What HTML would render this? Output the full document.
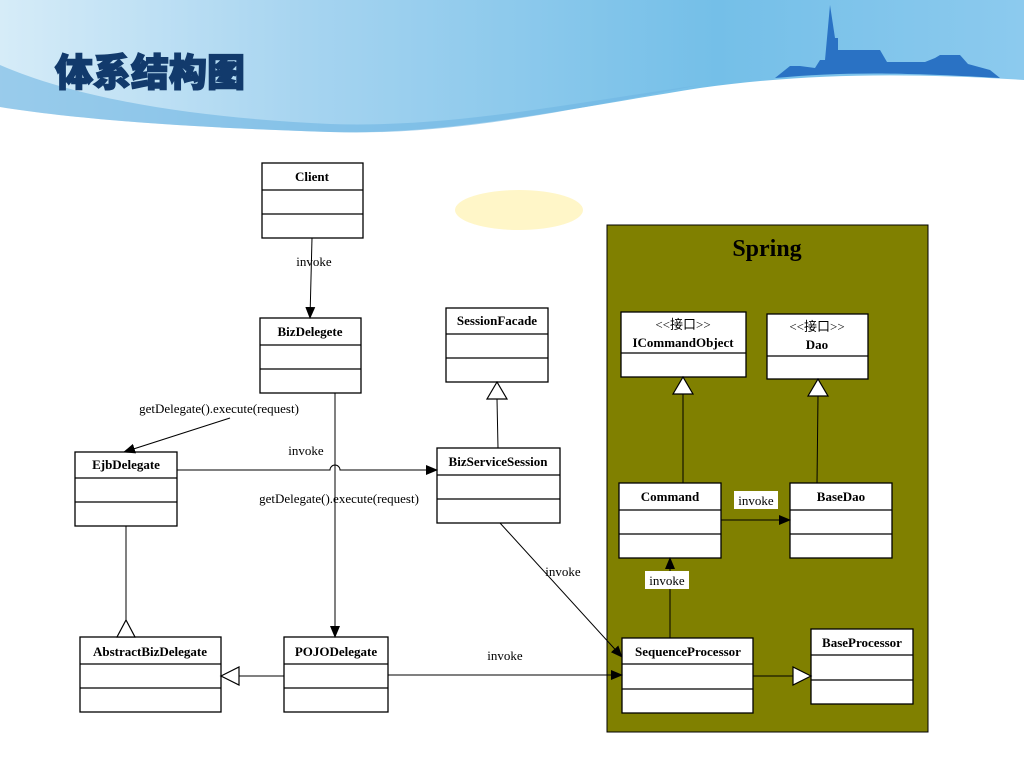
<!DOCTYPE html>
<html><head><meta charset="utf-8"><style>
html,body{margin:0;padding:0;width:1024px;height:768px;overflow:hidden;background:#fff}
text{font-family:"Liberation Serif",serif;font-size:13px;fill:#000}
.b{font-weight:bold}
</style></head><body>
<svg width="1024" height="768" viewBox="0 0 1024 768" xmlns="http://www.w3.org/2000/svg">
<defs>
<linearGradient id="hg" x1="0" y1="0" x2="1" y2="0">
<stop offset="0" stop-color="#d6ecf8"/><stop offset="0.3" stop-color="#a6d4f0"/><stop offset="0.7" stop-color="#74bfe8"/><stop offset="1" stop-color="#8ccaee"/>
</linearGradient>
<marker id="fa" markerWidth="12" markerHeight="10" refX="11" refY="5" orient="auto" markerUnits="userSpaceOnUse"><path d="M0,0 L12,5 L0,10 z" fill="#000"/></marker>
</defs>
<path d="M0,0 H1024 V80 C900,72 800,74 700,88 C560,110 450,135 330,132 C200,128 80,120 0,107 Z" fill="url(#hg)"/>
<path d="M0,65 C80,100 200,118 330,124 C450,128 560,105 700,85 C560,112 450,136 330,132 C200,128 80,120 0,107 Z" fill="#6fb6e2" opacity="0.6"/>
<g fill="#2a72c4">
<path d="M775,78 L790,66 L800,66 L815,68 L820,60 L825,60 L827,38 L830,5 L835,38 L838,38 L838,50 L880,50 L887,62 L925,62 L935,58 L940,55 L960,55 L968,64 L990,70 L1000,78 C900,72 840,72 775,78 Z"/>
</g>
<text x="55" y="86" style="font-family:'Noto Sans CJK SC','WenQuanYi Zen Hei',sans-serif;font-size:38px;font-weight:900;fill:#123a6c;stroke:#123a6c;stroke-width:1.5">体系结构图</text>
<ellipse cx="519" cy="210" rx="64" ry="20" fill="#fff6c8"/>
<rect x="607" y="225" width="321" height="507" fill="#808000" stroke="#000"/>
<text x="767" y="256" class="b" text-anchor="middle" style="font-size:24px">Spring</text>
<g fill="#fff" stroke="#000" stroke-width="1.3">
<rect x="262" y="163" width="101" height="75"/><line x1="262" y1="190" x2="363" y2="190"/><line x1="262" y1="214" x2="363" y2="214"/>
<rect x="260" y="318" width="101" height="75"/><line x1="260" y1="345" x2="361" y2="345"/><line x1="260" y1="369" x2="361" y2="369"/>
<rect x="446" y="308" width="102" height="74"/><line x1="446" y1="334" x2="548" y2="334"/><line x1="446" y1="358" x2="548" y2="358"/>
<rect x="75" y="452" width="102" height="74"/><line x1="75" y1="478" x2="177" y2="478"/><line x1="75" y1="502" x2="177" y2="502"/>
<rect x="437" y="448" width="123" height="75"/><line x1="437" y1="475" x2="560" y2="475"/><line x1="437" y1="499" x2="560" y2="499"/>
<rect x="80" y="637" width="141" height="75"/><line x1="80" y1="664" x2="221" y2="664"/><line x1="80" y1="688" x2="221" y2="688"/>
<rect x="284" y="637" width="104" height="75"/><line x1="284" y1="664" x2="388" y2="664"/><line x1="284" y1="688" x2="388" y2="688"/>
<rect x="622" y="638" width="131" height="75"/><line x1="622" y1="664" x2="753" y2="664"/><line x1="622" y1="689" x2="753" y2="689"/>
<rect x="811" y="629" width="102" height="75"/><line x1="811" y1="655" x2="913" y2="655"/><line x1="811" y1="680" x2="913" y2="680"/>
<rect x="621" y="312" width="125" height="65"/><line x1="621" y1="353" x2="746" y2="353"/>
<rect x="767" y="314" width="101" height="65"/><line x1="767" y1="356" x2="868" y2="356"/>
<rect x="619" y="483" width="102" height="75"/><line x1="619" y1="510" x2="721" y2="510"/><line x1="619" y1="534" x2="721" y2="534"/>
<rect x="790" y="483" width="102" height="75"/><line x1="790" y1="510" x2="892" y2="510"/><line x1="790" y1="534" x2="892" y2="534"/>
</g>
<text x="312" y="181" class="b" text-anchor="middle">Client</text>
<text x="310" y="336" class="b" text-anchor="middle">BizDelegete</text>
<text x="497" y="325" class="b" text-anchor="middle">SessionFacade</text>
<text x="126" y="469" class="b" text-anchor="middle">EjbDelegate</text>
<text x="498" y="466" class="b" text-anchor="middle">BizServiceSession</text>
<text x="150" y="656" class="b" text-anchor="middle">AbstractBizDelegate</text>
<text x="336" y="656" class="b" text-anchor="middle">POJODelegate</text>
<text x="688" y="656" class="b" text-anchor="middle">SequenceProcessor</text>
<text x="862" y="647" class="b" text-anchor="middle">BaseProcessor</text>
<text x="683" y="347" class="b" text-anchor="middle">ICommandObject</text>
<text x="817" y="349" class="b" text-anchor="middle">Dao</text>
<text x="670" y="501" class="b" text-anchor="middle">Command</text>
<text x="841" y="501" class="b" text-anchor="middle">BaseDao</text>
<text x="683" y="329" text-anchor="middle" style="font-family:'Liberation Serif','Noto Sans CJK SC',serif">&lt;&lt;接口&gt;&gt;</text>
<text x="817" y="331" text-anchor="middle" style="font-family:'Liberation Serif','Noto Sans CJK SC',serif">&lt;&lt;接口&gt;&gt;</text>
<g stroke="#000" stroke-width="1" fill="none">
<line x1="312" y1="238" x2="310" y2="318" marker-end="url(#fa)"/>
<line x1="230" y1="418" x2="124" y2="452" marker-end="url(#fa)"/>
<path d="M177,470 H330 A5,5 0 0 1 340,470 H437" marker-end="url(#fa)"/>
<line x1="335" y1="393" x2="335" y2="637" marker-end="url(#fa)"/>
<line x1="500" y1="523" x2="622" y2="657" marker-end="url(#fa)"/>
<line x1="388" y1="675" x2="622" y2="675" marker-end="url(#fa)"/>
<line x1="721" y1="520" x2="790" y2="520" marker-end="url(#fa)"/>
<line x1="670" y1="638" x2="670" y2="558" marker-end="url(#fa)"/>
<line x1="126" y1="526" x2="126" y2="621"/>
<line x1="284" y1="676" x2="239" y2="676"/>
<line x1="498" y1="448" x2="497" y2="399"/>
<line x1="683" y1="483" x2="683" y2="394"/>
<line x1="817" y1="483" x2="818" y2="396"/>
<line x1="753" y1="676" x2="793" y2="676"/>
</g>
<g fill="#fff" stroke="#000" stroke-width="1.2">
<path d="M126,620 L117,637 L135,637 Z"/>
<path d="M221,676 L239,667 L239,685 Z"/>
<path d="M497,382 L487,399 L507,399 Z"/>
<path d="M683,377 L673,394 L693,394 Z"/>
<path d="M818,379 L808,396 L828,396 Z"/>
<path d="M811,676 L793,667 L793,685 Z"/>
</g>
<text x="314" y="266" text-anchor="middle">invoke</text>
<text x="219" y="413" text-anchor="middle">getDelegate().execute(request)</text>
<text x="306" y="455" text-anchor="middle">invoke</text>
<text x="339" y="503" text-anchor="middle">getDelegate().execute(request)</text>
<text x="563" y="576" text-anchor="middle">invoke</text>
<text x="505" y="660" text-anchor="middle">invoke</text>
<rect x="734" y="491" width="44" height="18" fill="#fff"/>
<text x="756" y="505" text-anchor="middle">invoke</text>
<rect x="645" y="571" width="44" height="18" fill="#fff"/>
<text x="667" y="585" text-anchor="middle">invoke</text>
</svg>
</body></html>
